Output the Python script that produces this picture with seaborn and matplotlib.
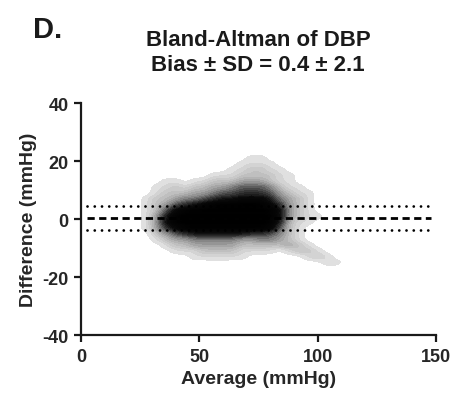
import numpy as np
import pandas as pd
import seaborn as sns
import matplotlib.pyplot as plt

# Summary numbers printed in the title
bias = 0.4
sd = 2.1

# Point cloud read off the figure as a density grid
# (columns = average in mmHg, rows = difference in mmHg, 0 = empty .. 9 = solid black)
avg_centers = [28, 32, 36, 40, 44, 48, 52, 56, 60, 64, 68, 72, 76, 80, 84, 88, 92, 96, 100, 104, 108]
diff_centers = [21, 19, 17, 15, 13, 11, 9, 7, 5, 3, 1, -1, -3, -5, -7, -9, -11, -13, -15]
cloud_rows = [
    "000000000001100000000",
    "000000000011110000000",
    "000000000112211000000",
    "000000011122221100000",
    "001101122233321100000",
    "011212233455542110000",
    "012223345566653211000",
    "122344567788874321000",
    "123567899999986321000",
    "125899999999998321000",
    "137999999999998321100",
    "138999999999997211000",
    "136899999999995210000",
    "023567777776654210000",
    "012334444433443210000",
    "001223333322222321000",
    "000111222211110122100",
    "000001111110000001210",
    "000000000000000000011",
]

x_ticks = [0, 50, 100, 150]
y_ticks = [-40, -20, 0, 20, 40]

# Long table for seaborn
records = []
for diff, row in zip(diff_centers, cloud_rows):
    for avg, ch in zip(avg_centers, row):
        if int(ch) > 0:
            records.append({"avg": avg, "diff": diff, "w": int(ch)})
df = pd.DataFrame(records)

sns.set_style("ticks")
plt.rcParams['font.family'] = ['Liberation Sans', 'DejaVu Sans']
plt.rcParams['font.weight'] = 'bold'
plt.rcParams['axes.unicode_minus'] = False

fig = plt.figure(figsize=(4.53, 4.02), dpi=100)
ax = fig.add_axes([0.179, 0.164, 0.783, 0.577])

cloud_cmap = sns.blend_palette(["#e6e6e6", "#bdbdbd", "#858585", "#3c3c3c", "#0a0a0a", "#000000"],
                               as_cmap=True)
sns.kdeplot(data=df, x="avg", y="diff", weights="w", fill=True, levels=30,
            thresh=0.012, bw_adjust=0.38, cmap=cloud_cmap, ax=ax)

# Bias and limits of agreement
upper = bias + 1.96 * sd
lower = bias - 1.96 * sd
ax.plot([2.5, 148], [bias, bias], color="black", lw=2.0, linestyle=(0, (2.6, 1.6)))
for lim in (upper, lower):
    ax.plot([2.5, 148], [lim, lim], color="black", lw=2.0,
            linestyle=(0, (0.01, 2.6)), dash_capstyle="round")

ax.set_xlim(0, 150)
ax.set_ylim(-40, 40)
ax.set_xticks(x_ticks)
ax.set_yticks(y_ticks)
ax.tick_params(labelsize=13, width=1.6, length=5, color="#1a1a1a", pad=4)
for lab in ax.get_xticklabels() + ax.get_yticklabels():
    lab.set_fontweight("bold")
for side in ("left", "bottom"):
    ax.spines[side].set_linewidth(1.6)
    ax.spines[side].set_color("#1a1a1a")
    ax.spines[side].set_clip_on(False)
sns.despine(ax=ax)

ax.set_xlabel("Average (mmHg)", fontsize=14, fontweight="bold", labelpad=4)
ax.set_ylabel("Difference (mmHg)", fontsize=14, fontweight="bold", labelpad=4)

fig.text(0.570, 0.900, "Bland-Altman of DBP", ha="center", va="center",
         fontsize=16, fontweight="bold", color="#1a1a1a")
fig.text(0.570, 0.838, "Bias \u00b1 SD = 0.4 \u00b1 2.1", ha="center", va="center",
         fontsize=16, fontweight="bold", color="#1a1a1a")
fig.text(0.072, 0.925, "D.", ha="left", va="center", fontsize=21, fontweight="bold", color="#1a1a1a")

fig.savefig("out.png", dpi=100)
